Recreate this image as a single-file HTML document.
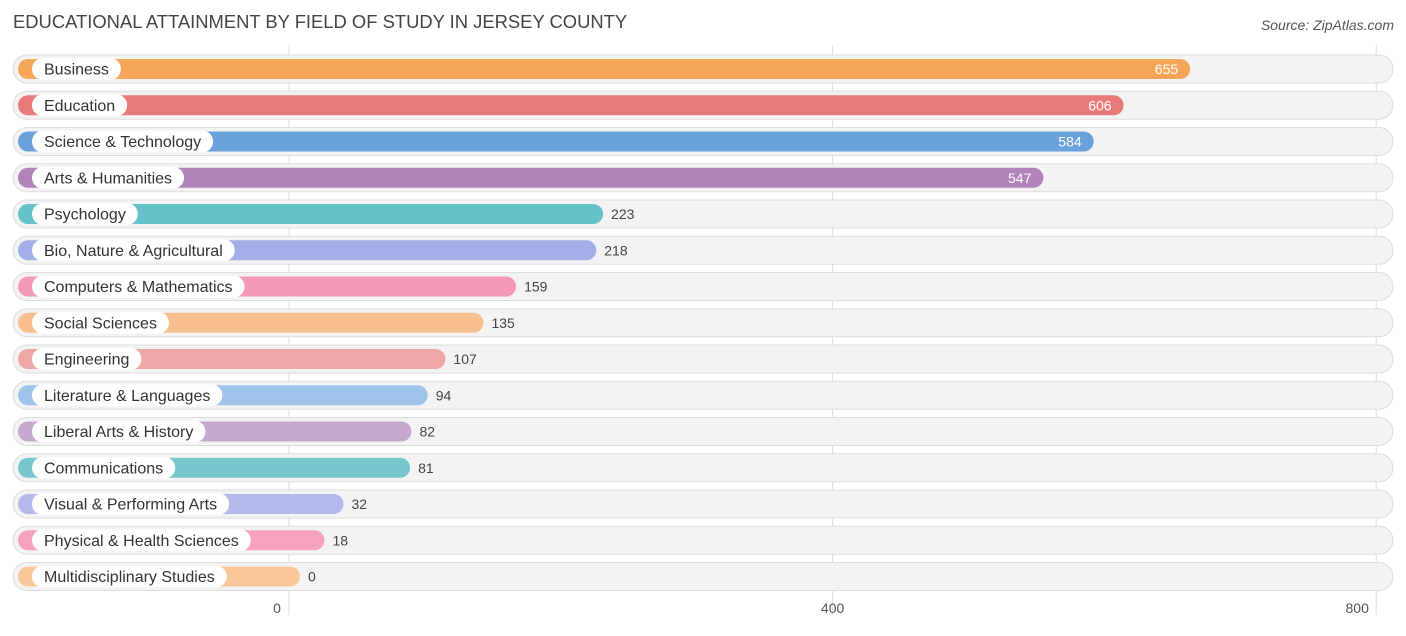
<!DOCTYPE html>
<html><head><meta charset="utf-8">
<style>
body{margin:0;background:#fff;font-family:"Liberation Sans",Roboto,sans-serif;}
svg text{font-family:"Liberation Sans",sans-serif;}
</style></head>
<body>
<svg id="chart" width="1406" height="631" xmlns="http://www.w3.org/2000/svg">
<text x="13" y="28" font-size="18.4" fill="#444">EDUCATIONAL ATTAINMENT BY FIELD OF STUDY IN JERSEY COUNTY</text>
<text x="1394" y="30" font-size="14" fill="#555" text-anchor="end" font-style="italic">Source: ZipAtlas.com</text>
<g id="grid"></g><g id="rows"></g><g id="ticks"></g>
</svg>
<script>
const categories=["Business","Education","Science & Technology","Arts & Humanities","Psychology","Bio, Nature & Agricultural","Computers & Mathematics","Social Sciences","Engineering","Literature & Languages","Liberal Arts & History","Communications","Visual & Performing Arts","Physical & Health Sciences","Multidisciplinary Studies"];
const values=[655,606,584,547,223,218,159,135,107,94,82,81,32,18,0];
const colors=["#f6a658","#e87a7a","#6aa1dc","#b283bb","#66c2c9","#a5aee6","#f49ab8","#f9c08f","#eda8a5","#9fc4ea","#c7a9d0","#77c6cb","#b5b8ea","#f5a1bf","#f9c89a"];
const tickValues=[0,400,800];
const NS="http://www.w3.org/2000/svg";
const x=v=>289+v*1.359;
const rowY=i=>69+i*36.25;
function mk(t,a,p){const e=document.createElementNS(NS,t);for(const k in a)e.setAttribute(k,a[k]);p.appendChild(e);return e;}
const grid=document.getElementById('grid'),rows=document.getElementById('rows'),ticks=document.getElementById('ticks');
tickValues.forEach(t=>{
 const l=mk('line',{x1:x(t),x2:x(t),y1:45,y2:615,stroke:'#ddd','stroke-width':1},grid);
 
 
 const tx=mk('text',{x:x(t)-(t===0?12:(t===800?19:0)),y:613,'font-size':14,fill:'#555','text-anchor':'middle'},ticks);
 tx.textContent=t;
 
 
});
categories.forEach((c,i)=>{
 const cy=rowY(i),v=values[i];
 const bg=mk('rect',{x:13,y:cy-14,width:1380,height:28,rx:14,fill:'#f3f3f3',stroke:'#ddd','stroke-width':1},rows);
 
 
 const end=x(v)+11;
 const bar=mk('rect',{x:18,y:cy-10,width:end-18,height:20,rx:10,fill:colors[i]},rows);
 
 
 const pill=mk('rect',{x:32,y:cy-11,width:100,height:22,rx:11,fill:'#fff'},rows);
 
 
 const lt=mk('text',{x:44,y:cy+5.5,'font-size':16,fill:'#333'},rows);
 lt.textContent=c;
 
 
 pill.setAttribute('width',lt.getComputedTextLength()+24);
 const inside=v>400;
 const vt=mk('text',{x:inside?end-12:end+8,y:cy+5,'font-size':14,fill:inside?'#fff':'#444','text-anchor':inside?'end':'start'},rows);
 vt.textContent=v;
 
 
});
</script>
</body></html>
